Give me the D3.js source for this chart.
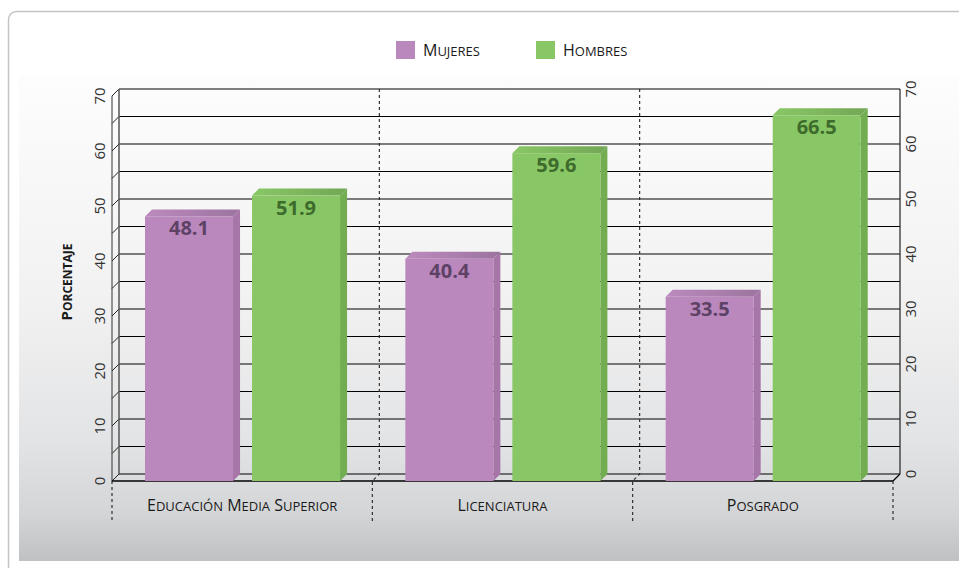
<!DOCTYPE html>
<html><head><meta charset="utf-8">
<script src="https://cdn.jsdelivr.net/npm/d3@7"></script>
<style>
html,body{margin:0;padding:0;background:#fff;}
svg{display:block;}
text{font-family:"Open Sans","Noto Sans",sans-serif;}
</style></head>
<body>
<script>
const categories = ["Educación Media Superior", "Licenciatura", "Posgrado"];
const seriesNames = ["Mujeres", "Hombres"];
const mujeres = [48.1, 40.4, 33.5];
const hombres = [51.9, 59.6, 66.5];
const yTicks = [0, 10, 20, 30, 40, 50, 60, 70];
const gridValues = [0, 5, 10, 15, 20, 25, 30, 35, 40, 45, 50, 55, 60, 65, 70];
const yTitle = "Porcentaje";

const W = 959, H = 568;
const colors = {
  Mujeres: {front: "#ba88bd", side: "#a676a9", top: "#a57aa8", label: "#5e4266"},
  Hombres: {front: "#89c665", side: "#73ad52", top: "#79b05a", label: "#3d6b2c"}
};
const DX = 7, DY = 7;

// small caps helper: capitals at capSize, remaining letters as synthesized small caps
function smallCaps(sel, str, capSize) {
  str.split(/(\s+)/).forEach(part => {
    if (!part.length) return;
    if (/^\s+$/.test(part)) { sel.append("tspan").attr("font-size", capSize).text(part); return; }
    sel.append("tspan").attr("font-size", capSize).text(part[0]);
    if (part.length > 1)
      sel.append("tspan").attr("font-size", capSize * 1.12).style("font-variant", "small-caps").text(part.slice(1));
  });
}

const svg = d3.select("body").append("svg").attr("width", W).attr("height", H);
const defs = svg.append("defs");
const bg = defs.append("linearGradient").attr("id", "bg").attr("x1", 0).attr("y1", 0).attr("x2", 0).attr("y2", 1);
[[0, "#fdfdfd"], [0.45, "#f2f2f3"], [0.75, "#e3e4e5"], [0.9, "#d4d5d7"], [1, "#c0c1c3"]].forEach(s =>
  bg.append("stop").attr("offset", s[0]).attr("stop-color", s[1]));
["Mujeres", "Hombres"].forEach(s => {
  const tg = defs.append("linearGradient").attr("id", "top" + s).attr("x1", 0).attr("y1", 0).attr("x2", 1).attr("y2", 0);
  tg.append("stop").attr("offset", 0).attr("stop-color", d3.color(colors[s].top).brighter(0.35));
  tg.append("stop").attr("offset", 1).attr("stop-color", d3.color(colors[s].top).darker(0.15));
});

// panel
svg.append("rect").attr("x", 8.5).attr("y", 11.5).attr("width", 1000).attr("height", 600)
  .attr("rx", 8).attr("fill", "#fff").attr("stroke", "#c4c4c4").attr("stroke-width", 1.5);
svg.append("rect").attr("x", 19).attr("y", 75).attr("width", 940).attr("height", 486).attr("fill", "url(#bg)");

// scales
const x0 = d3.scaleBand().domain(categories).range([112, 893]).paddingInner(0).paddingOuter(0);
const bw = x0.bandwidth();
const x1 = d3.scaleBand().domain(seriesNames).range([bw * 0.1268, bw * 0.876]).paddingInner(19 / 107);
const y = d3.scaleLinear().domain([0, 70]).range([481, 96]);

const g = svg.append("g");

// back wall gridlines
g.selectAll(".grid").data(gridValues).join("line")
  .attr("x1", 112 + DX).attr("x2", 893 + DX)
  .attr("y1", d => y(d) - DY).attr("y2", d => y(d) - DY)
  .attr("stroke", "#000").attr("stroke-width", 1.2);
// left wall slants
g.selectAll(".slant").data(gridValues).join("line")
  .attr("x1", 112).attr("x2", 112 + DX)
  .attr("y1", d => y(d)).attr("y2", d => y(d) - DY)
  .attr("stroke", "#222").attr("stroke-width", 1);
// left wall edges
g.append("line").attr("x1", 112).attr("x2", 112).attr("y1", y(70)).attr("y2", y(0)).attr("stroke", "#333").attr("stroke-width", 1);
g.append("line").attr("x1", 112 + DX).attr("x2", 112 + DX).attr("y1", y(70) - DY).attr("y2", y(0) - DY).attr("stroke", "#555").attr("stroke-width", 1.5);
// right wall edge
g.append("line").attr("x1", 893 + DX).attr("x2", 893 + DX).attr("y1", y(70) - DY).attr("y2", y(0) - DY).attr("stroke", "#222").attr("stroke-width", 1.2);
// floor front line & right slant
g.append("line").attr("x1", 112).attr("x2", 893).attr("y1", y(0)).attr("y2", y(0)).attr("stroke", "#000").attr("stroke-width", 1.3);
g.append("line").attr("x1", 893).attr("x2", 893 + DX).attr("y1", y(0)).attr("y2", y(0) - DY).attr("stroke", "#000").attr("stroke-width", 1.2);

// dashed dividers
const dividers = [x0.range()[0]].concat(categories.slice(1).map(c => x0(c))).concat([x0.range()[1]]);
dividers.forEach((xv, i) => {
  const inner = i > 0 && i < dividers.length - 1;
  let pts;
  if (inner) pts = [[xv + DX, y(70) - DY], [xv + DX, y(0) - DY], [xv, y(0)], [xv, 522]];
  else pts = [[xv, y(0)], [xv, 522]];
  g.append("path").attr("d", d3.line()(pts)).attr("fill", "none")
    .attr("stroke", "#222").attr("stroke-width", 1.1).attr("stroke-dasharray", "3,3");
});

// bars
const data = [];
categories.forEach((c, i) => {
  data.push({cat: c, s: "Mujeres", v: mujeres[i]});
  data.push({cat: c, s: "Hombres", v: hombres[i]});
});
const bars = g.selectAll(".bar").data(data).join("g");
bars.each(function(d) {
  const sel = d3.select(this);
  const xl = x0(d.cat) + x1(d.s), w = x1.bandwidth();
  const yt = y(d.v), yb = y(0);
  const col = colors[d.s];
  sel.append("path").attr("d", d3.line()([[xl + w, yt], [xl + w + DX, yt - DY], [xl + w + DX, yb - DY], [xl + w, yb]]) + "Z")
    .attr("fill", col.side);
  sel.append("path").attr("d", d3.line()([[xl, yt], [xl + DX, yt - DY], [xl + w + DX, yt - DY], [xl + w, yt]]) + "Z")
    .attr("fill", `url(#top${d.s})`);
  sel.append("rect").attr("x", xl).attr("y", yt).attr("width", w).attr("height", yb - yt).attr("fill", col.front);
  sel.append("text").attr("x", xl + w / 2).attr("y", yt + 19).attr("text-anchor", "middle")
    .attr("font-size", 20).attr("font-weight", "bold").attr("fill", col.label).text(d.v.toFixed(1));
});

// left tick labels (front plane)
g.selectAll(".tl").data(yTicks).join("text")
  .attr("transform", d => `translate(105,${y(d)}) rotate(-90)`)
  .attr("text-anchor", "middle").attr("font-size", 15).attr("fill", "#333")
  .attr("font-family", "Noto Sans").text(d => d);
// right tick labels (back plane)
g.selectAll(".tr").data(yTicks).join("text")
  .attr("transform", d => `translate(916,${y(d) - DY}) rotate(-90)`)
  .attr("text-anchor", "middle").attr("font-size", 15).attr("fill", "#333")
  .attr("font-family", "Noto Sans").text(d => d);

// y title
const yt = svg.append("text").attr("transform", `translate(72,282) rotate(-90)`)
  .attr("text-anchor", "middle").attr("font-weight", "bold").attr("fill", "#1a1a1a");
smallCaps(yt, yTitle, 15);

// category labels
g.selectAll(".cl").data(categories).join("text")
  .attr("x", d => x0(d) + bw / 2).attr("y", 511).attr("text-anchor", "middle")
  .attr("fill", "#1a1a1a").each(function(d) { smallCaps(d3.select(this), d, 16); });

// legend
const legX = [396, 536];
seriesNames.forEach((s, i) => {
  svg.append("rect").attr("x", legX[i]).attr("y", 41).attr("width", 19).attr("height", 18).attr("fill", colors[s].front);
  const t = svg.append("text").attr("x", legX[i] + 27).attr("y", 56).attr("fill", "#1a1a1a");
  smallCaps(t, s, 16);
});
</script>
</body></html>
